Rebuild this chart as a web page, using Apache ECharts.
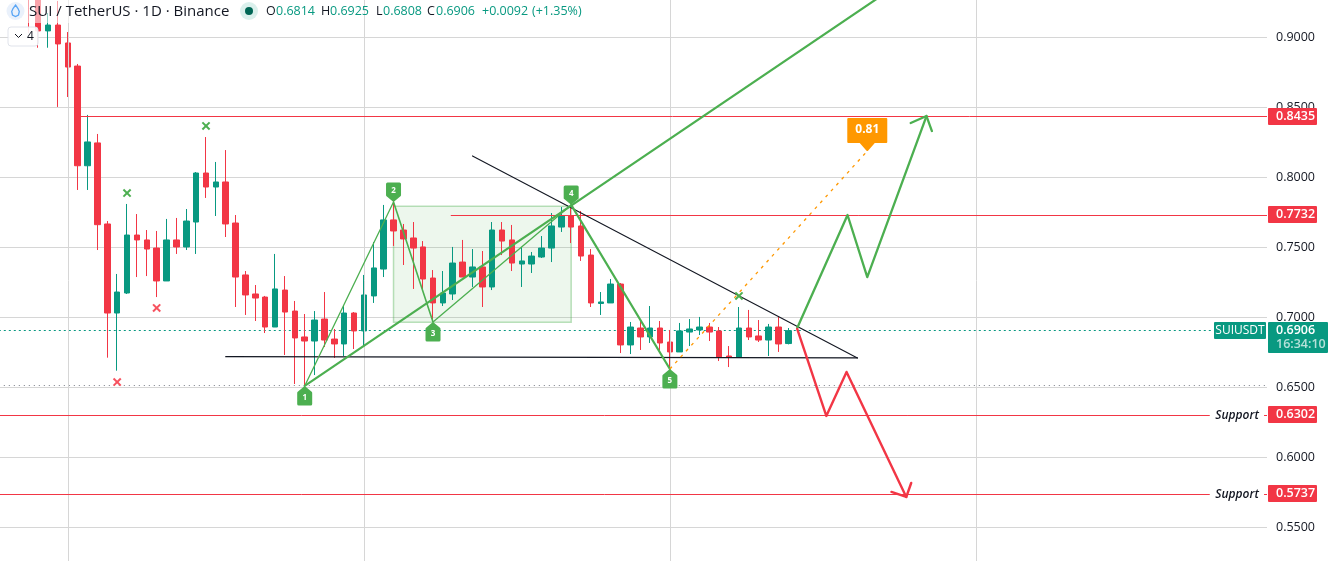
<!DOCTYPE html>
<html><head><meta charset="utf-8">
<style>html,body{margin:0;padding:0;background:#fff}#c{width:1329px;height:561px}</style>
<script src="https://cdn.jsdelivr.net/npm/echarts@6/dist/echarts.min.js"></script>
</head><body><div id="c"></div>
<script>
const UP='#089981',DOWN='#f23645',DRAW='#4caf50',FONT='"Open Sans",sans-serif';
const firstBar=3, slotCount=129;
const opens =[.945,.930,.9047,.9089,.8961,.8796,.8084,.8247,.7668,.7032,.7175,.7589,.7554,.7496,.7261,.7554,.7504,.7682,.8032,.7932,.7968,.7675,.7304,.7168,.7146,.6932,.7196,.7046,.6861,.6832,.6989,.6846,.6811,.7032,.6904,.7154,.7346,.7697,.7625,.7568,.7504,.7282,.7104,.7168,.7396,.7289,.7361,.7218,.7625,.7554,.7382,.7382,.7432,.7496,.7646,.7725,.7654,.7446,.7100,.7104,.7239,.6804,.6925,.6861,.6925,.6825,.6754,.6896,.6911,.6932,.6904,.6725,.6718,.6925,.6868,.6839,.6932,.6814];
const closes=[.930,.9047,.9089,.8954,.8789,.8084,.8254,.7663,.7032,.7182,.7589,.7554,.7489,.7261,.7554,.7504,.7689,.8032,.7932,.7968,.7668,.7289,.7161,.7139,.6932,.7204,.7039,.6854,.6832,.6982,.6839,.6811,.7032,.6904,.7161,.7354,.7697,.7618,.7561,.7496,.7275,.7104,.7175,.7389,.7289,.7361,.7218,.7625,.7546,.7389,.7404,.7439,.7496,.7654,.7725,.7646,.7439,.7104,.7111,.7239,.6804,.6932,.6861,.6925,.6818,.6754,.6904,.6918,.6932,.6896,.6718,.6718,.6925,.6861,.6839,.6932,.6811,.6906];
const lows  =[.9032,.8927,.8927,.8504,.8575,.7911,.7911,.7482,.6713,.6620,.7168,.7289,.7296,.7146,.7261,.7454,.7482,.7454,.7854,.7725,.7575,.7075,.7018,.6975,.6889,.6932,.6732,.6525,.6518,.6589,.6789,.6711,.6725,.6775,.6789,.7104,.7289,.7511,.7375,.7204,.7196,.6975,.7082,.7125,.7289,.7218,.7075,.7196,.7446,.7332,.7218,.7318,.7425,.7396,.7611,.7532,.7404,.7075,.7018,.7104,.6746,.6739,.6768,.6818,.6768,.6632,.6754,.6796,.6875,.6832,.6689,.6646,.6718,.6839,.6825,.6725,.6754,.6808];
const highs =[.950,.935,.9175,.9261,.9039,.8811,.8447,.8311,.7689,.7311,.7811,.7739,.7625,.7618,.7704,.7711,.7775,.8039,.8289,.8111,.8196,.7732,.7332,.7232,.7154,.7454,.7296,.7118,.7025,.7046,.7182,.6918,.7089,.7039,.7304,.7539,.7804,.7832,.7668,.7682,.7546,.7339,.7332,.7504,.7554,.7489,.7475,.7682,.7682,.7661,.7504,.7468,.7582,.7746,.7789,.7804,.7761,.7489,.7182,.7275,.7246,.6968,.6982,.7082,.6975,.6911,.6961,.6989,.7004,.6961,.6932,.6796,.7075,.7054,.6982,.6954,.7004,.6925];

const yTicks=[.5,.55,.6,.65,.7,.75,.8,.85,.9,.95];
const timeGridBars=[7,37,68,99];

// drawings, as [bar position, price]
const legA=[31,.6511], legB=[40,.7825], legC=[44,.6968], legD=[58,.7804], legE=[68,.6632];
const trendUp=[legA,[92,.9421]];
const zoneBars=[40,58], zonePrices=[.7794,.6966];
const orangeTarget=[88,.8189], orangeValue='0.81';
const flatBlack=[[23,.6720],[87,.6711]];
const fallBlack=[[48,.8154],[87,.6711]];
const greenPath=[[80.9,.6925],[86,.7732],[88,.7289],[94,.8439]];
const greenHead=[[92.4,.8389],[94,.8439],[94.55,.8332]];
const redPath=[[80.9,.6918],[83.85,.6297],[85.9,.6611],[91.95,.5718]];
const redHead=[[90.45,.5754],[91.95,.5718],[92.45,.5818]];
const crossGreen=[[13,.7889],[21,.8368],[75,.7154]];
const crossRed=[[16,.7068],[12,.6539]];
const levelHigh=.8435, levelMid=.7732, levelSup1=.6302, levelSup2=.5737;
const lastPrice=.6906, prevLevel=.6515;
const countdown='16:34:10', symbolTag='SUIUSDT', supportWord='Support';
const axisEnd=128.5;

const candles=opens.map((o,i)=>[o,closes[i],lows[i],highs[i]]);
const cats=Array.from({length:slotCount},(_,i)=>String(i));
const candleData=cats.map((_,i)=>i>=firstBar&&i-firstBar<candles.length?candles[i-firstBar]:'-');

function ln(points,color,width,z,type){
  return {type:'line',xAxisIndex:1,yAxisIndex:0,data:points,symbol:'none',silent:true,z:z||5,animation:false,
    lineStyle:{color:color,width:width,type:type||'solid',cap:type?'butt':'round',join:'round'}};
}
const pentagons=[[legA,'1',1],[legB,'2',-1],[legC,'3',1],[legD,'4',-1],[legE,'5',1]];

const tags=[
 [levelHigh,levelHigh.toFixed(4),DOWN],[levelMid,levelMid.toFixed(4),DOWN],
 [levelSup1,levelSup1.toFixed(4),DOWN],[levelSup2,levelSup2.toFixed(4),DOWN]];

// horizontal level segments: from bar, to bar, price
const redSegments=[[8,axisEnd,levelHigh],[45.8,axisEnd,levelMid],[-0.5,122.7,levelSup1],[128.2,axisEnd,levelSup1],[-0.5,122.7,levelSup2],[128.2,axisEnd,levelSup2]];
const dottedSegments=[[-0.5,123.1,lastPrice,UP,[2,3]],[-0.5,axisEnd,prevLevel,'#787b86',[1,4]]];
function crisp(p,api,x0,x1,y){
  const a=api.coord([x0,y]),b=api.coord([x1,y]),py=Math.floor(a[1])+.5;
  return {x1:a[0],y1:py,x2:b[0],y2:py};
}

const series=[
 {type:'line',xAxisIndex:0,yAxisIndex:0,data:[],silent:true,z:1,animation:false,symbol:'none',
  markLine:{silent:true,symbol:'none',animation:false,label:{show:false},lineStyle:{color:'#d6d6d6',width:1,type:'solid'},
    data:timeGridBars.map(b=>({xAxis:b}))}},
 // dotted levels
 {type:'custom',xAxisIndex:1,yAxisIndex:0,z:2,silent:true,animation:false,data:dottedSegments.map(s=>[s[0],s[1],s[2]]),
  renderItem(p,api){const s=dottedSegments[p.dataIndex];
    return {type:'line',shape:crisp(p,api,s[0],s[1],s[2]),style:{stroke:s[3],lineWidth:1,lineDash:s[4]}};}},
 {type:'candlestick',xAxisIndex:0,yAxisIndex:0,data:candleData,barWidth:6,z:3,animation:false,silent:true,
  itemStyle:{color:UP,color0:DOWN,borderColor:UP,borderColor0:DOWN,borderWidth:1}},
 // rectangle zone
 {type:'line',xAxisIndex:1,yAxisIndex:0,data:[],silent:true,z:4,animation:false,symbol:'none',
  markArea:{silent:true,animation:false,itemStyle:{color:'rgba(76,175,80,0.10)',borderColor:'rgba(76,175,80,0.38)',borderWidth:1.5},
    data:[[{xAxis:zoneBars[0],yAxis:zonePrices[0]},{xAxis:zoneBars[1],yAxis:zonePrices[1]}]]}},
 // solid levels
 {type:'custom',xAxisIndex:1,yAxisIndex:0,z:5,silent:true,animation:false,data:redSegments,
  renderItem(p,api){return {type:'line',shape:crisp(p,api,api.value(0),api.value(1),api.value(2)),style:{stroke:DOWN,lineWidth:1}};}},
 // black lines
 ln(flatBlack,'#131722',1.2,6),
 ln(fallBlack,'#131722',1.1,6),
 // pattern
 ln([legA,legB],DRAW,1.3,6), ln([legB,legC],DRAW,1.6,6), ln([legC,legD],DRAW,1.3,6), ln([legD,legE],DRAW,2.2,6),
 ln(trendUp,DRAW,2.2,6),
 ln([legE,orangeTarget],'#ff9800',1.3,6,[3,5]),
 ln(greenPath,DRAW,2.3,7), ln(greenHead,DRAW,2.3,7),
 ln(redPath,DOWN,2.4,7), ln(redHead,DOWN,2.4,7),
 // crosses
 {type:'custom',xAxisIndex:1,yAxisIndex:0,z:8,silent:true,animation:false,
  data:crossGreen.map(c=>[c[0],c[1]]).concat(crossRed.map(c=>[c[0],c[1]])),
  renderItem(p,api){const c=api.coord([api.value(0),api.value(1)]),col=crossCol(p.dataIndex),s=3.6;
    const st={stroke:col,lineWidth:2};
    return {type:'group',children:[
      {type:'line',shape:{x1:c[0]-s,y1:c[1]-s,x2:c[0]+s,y2:c[1]+s},style:st},
      {type:'line',shape:{x1:c[0]-s,y1:c[1]+s,x2:c[0]+s,y2:c[1]-s},style:st}]};}},
 // numbered badges
 {type:'custom',xAxisIndex:1,yAxisIndex:0,z:9,silent:true,animation:false,
  data:pentagons.map(b=>[b[0][0],b[0][1]]),
  renderItem(p,api){const c=api.coord([api.value(0),api.value(1)]),b=pentagons[p.dataIndex],d=b[2];
    const x=c[0],y=c[1];
    return {type:'group',children:[
      {type:'polygon',shape:{points:[[x,y+d*2],[x+6,y+d*7],[x+6,y+d*18],[x-6,y+d*18],[x-6,y+d*7]]},
       style:{fill:DRAW,stroke:DRAW,lineWidth:3,lineJoin:'round'}},
      {type:'text',style:{x:x,y:y+d*11.5,text:b[1],fill:'#fff',font:'bold 8px '+FONT,textAlign:'center',textVerticalAlign:'middle'}}]};}},
 // orange callout
 {type:'custom',xAxisIndex:1,yAxisIndex:0,z:9,silent:true,animation:false,data:[orangeTarget],
  renderItem(p,api){const c=api.coord([api.value(0),api.value(1)]),x=c[0],y=c[1];
    return {type:'group',children:[
      {type:'polygon',shape:{points:[[x-19,y-32],[x+19,y-32],[x+19,y-9],[x+7,y-9],[x,y-1],[x-7,y-9],[x-19,y-9]]},
       style:{fill:'#ff9800',stroke:'#ff9800',lineWidth:2,lineJoin:'round'}},
      {type:'text',style:{x:x,y:y-21,text:orangeValue,fill:'#fff',font:'bold 12px '+FONT,textAlign:'center',textVerticalAlign:'middle'}}]};}},
 // price tags at the axis
 {type:'custom',xAxisIndex:1,yAxisIndex:0,z:20,silent:true,animation:false,
  data:tags.map(t=>[axisEnd,t[0]]),
  renderItem(p,api){const c=api.coord([api.value(0),api.value(1)]),t=tags[p.dataIndex],x=c[0]+1,y=c[1]-.5;
    return {type:'group',children:[
      {type:'rect',shape:{x:x,y:Math.round(y-8.5),width:49,height:17,r:1},style:{fill:t[2]}},
      {type:'text',style:{x:x+8,y:Math.round(y-8.5)+8.5,text:t[1],fill:'#fff',font:'600 12.5px '+FONT,textVerticalAlign:'middle'}}]};}},
 // last price tag
 {type:'custom',xAxisIndex:1,yAxisIndex:0,z:21,silent:true,animation:false,data:[[axisEnd,lastPrice]],
  renderItem(p,api){const c=api.coord([api.value(0),api.value(1)]),x=c[0]+1,y=Math.round(c[1]-8.5);
    return {type:'group',children:[
      {type:'rect',shape:{x:x-54,y:y,width:52,height:17,r:1},style:{fill:UP}},
      {type:'text',style:{x:x-28,y:y+8.5,text:symbolTag,fill:'#fff',font:'12px '+FONT,textAlign:'center',textVerticalAlign:'middle'}},
      {type:'rect',shape:{x:x,y:y,width:60,height:31,r:1},style:{fill:UP}},
      {type:'text',style:{x:x+8,y:y+8.5,text:lastPrice.toFixed(4),fill:'#fff',font:'600 12.5px '+FONT,textVerticalAlign:'middle'}},
      {type:'text',style:{x:x+8,y:y+22.5,text:countdown,fill:'rgba(255,255,255,.7)',font:'600 12.5px '+FONT,textVerticalAlign:'middle'}}]};}},
 // support words
 {type:'custom',xAxisIndex:1,yAxisIndex:0,z:20,silent:true,animation:false,data:[[122.7,levelSup1],[122.7,levelSup2]],
  renderItem(p,api){const c=api.coord([api.value(0),api.value(1)]);
    return {type:'text',style:{x:c[0]+5.5,y:c[1],text:supportWord,fill:'#131722',font:'italic 600 12px '+FONT,textVerticalAlign:'middle'}};}}
];
function crossCol(i){return i<crossGreen.length?DRAW:'#f7525f';}

const legendPieces=[[266,'O','#131722'],[276,'0.6814',UP],[321,'H','#131722'],[330,'0.6925',UP],[376,'L','#131722'],[383,'0.6808',UP],[427,'C','#131722'],[436,'0.6906',UP],[482,'+0.0092',UP],[532,'(+1.35%)',UP]];
const graphic=[
 {type:'rect',z:100,shape:{x:0,y:0,width:232,height:23},style:{fill:'rgba(255,255,255,.55)'}},
 {type:'circle',z:101,shape:{cx:15.5,cy:11,r:9},style:{fill:'#eaf1fb'}},
 {type:'polygon',z:102,shape:{points:[[15.5,5],[18,8.5],[19.3,11.5],[18.5,15],[15.5,16.5],[12.5,15],[11.7,11.5],[13,8.5]]},style:{fill:'none',stroke:'#5aa6f5',lineWidth:1.3}},
 {type:'text',z:101,style:{x:29,y:11.5,text:'SUI / TetherUS · 1D · Binance',fill:'#131722',font:'15px '+FONT,textVerticalAlign:'middle'}},
 {type:'circle',z:101,shape:{cx:249,cy:11,r:9},style:{fill:'rgba(8,153,129,.15)'}},
 {type:'circle',z:102,shape:{cx:249,cy:11,r:4},style:{fill:'#006655'}},
 {type:'rect',z:101,shape:{x:8,y:27,width:30,height:19,r:3},style:{fill:'rgba(255,255,255,.9)',stroke:'#e0e3eb',lineWidth:1}},
 {type:'polyline',z:102,shape:{points:[[15,34],[18.5,37.5],[22,34]]},style:{stroke:'#131722',lineWidth:1,fill:'none'}},
 {type:'text',z:102,style:{x:27,y:37,text:'4',fill:'#131722',font:'12px '+FONT,textVerticalAlign:'middle'}}
].concat(legendPieces.map(l=>({type:'text',z:101,style:{x:l[0],y:11.5,text:l[1],fill:l[2],font:'12.5px '+FONT,textVerticalAlign:'middle'}})));

echarts.init(document.getElementById('c'),null,{renderer:'canvas'}).setOption({
 animation:false,backgroundColor:'#fff',
 grid:{left:-6.2,width:1273.2,top:-32.5,height:630,outerBoundsMode:'none',containLabel:false},
 tooltip:{show:false},
 xAxis:[
  {type:'category',data:cats,show:false,boundaryGap:true},
  {type:'value',min:-0.5,max:axisEnd,show:false,splitLine:{show:false}}],
 yAxis:[{type:'value',position:'right',min:yTicks[0],max:yTicks[yTicks.length-1],interval:.05,scale:true,
   axisLine:{show:false},axisTick:{show:false},
   splitLine:{show:true,lineStyle:{color:'#d6d6d6',width:1}},
   axisLabel:{margin:9,color:'#131722',fontFamily:FONT,fontSize:12.5,formatter:v=>v.toFixed(4)}}],
 series,graphic
});
</script></body></html>
